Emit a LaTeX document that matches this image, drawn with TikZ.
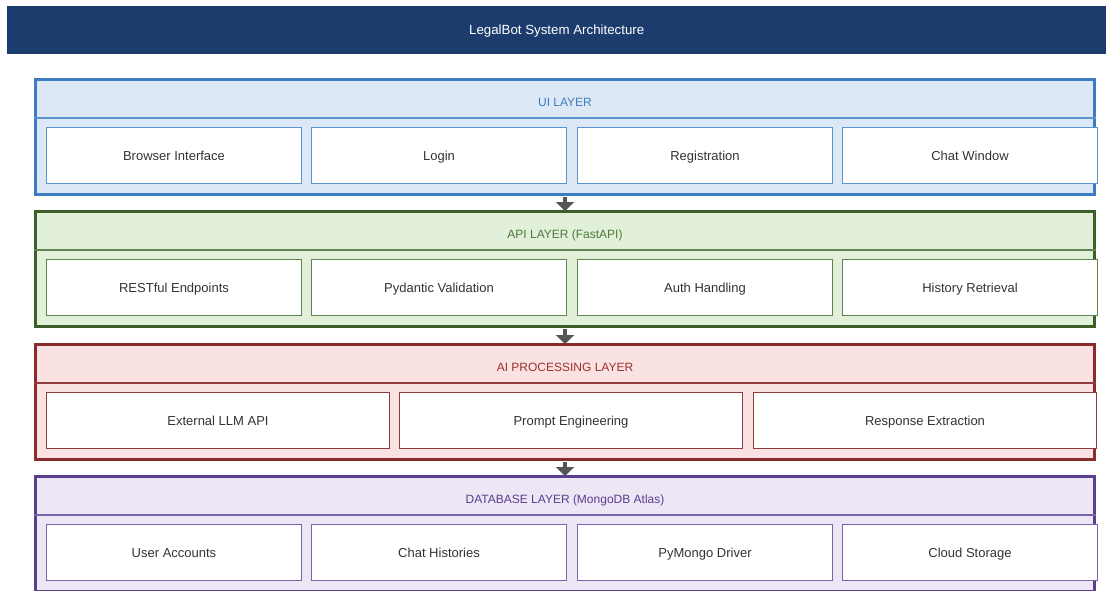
\documentclass[tikz,border=0pt]{standalone}
\usepackage{fontspec}
\setmainfont{Liberation Sans}
\usetikzlibrary{arrows.meta}
\definecolor{titlebg}{HTML}{1D3C6E}
\definecolor{uiB}{HTML}{3D7CC0}\definecolor{uiF}{HTML}{DCE8F5}\definecolor{uiX}{HTML}{5A93CF}\definecolor{uiT}{HTML}{3D7CC0}
\definecolor{apiB}{HTML}{3B5E2A}\definecolor{apiF}{HTML}{E2EFD9}\definecolor{apiX}{HTML}{5E8450}\definecolor{apiT}{HTML}{4E7A3A}
\definecolor{aiB}{HTML}{8B2C2C}\definecolor{aiF}{HTML}{FBE2E2}\definecolor{aiX}{HTML}{8E3B3B}\definecolor{aiT}{HTML}{9B3030}
\definecolor{dbB}{HTML}{5A3E8F}\definecolor{dbF}{HTML}{ECE6F5}\definecolor{dbX}{HTML}{7B62AE}\definecolor{dbT}{HTML}{5A3E8F}
\definecolor{txt}{HTML}{333333}
\definecolor{arr}{HTML}{555555}
\begin{document}
\begin{tikzpicture}[x=1pt,y=-1pt,
  titlebar/.style={fill=titlebg, text=white, inner sep=0pt, font=\fontsize{13.3}{16}\selectfont, anchor=north west, minimum width=1099pt, minimum height=48pt, text height=12pt, text depth=2.5pt},
  layer/.style={line width=3pt, inner sep=0pt, anchor=north west, minimum width=1059pt, minimum height=115pt},
  hdr/.style={font=\fontsize{12}{14}\selectfont, inner sep=0pt, text height=8.6pt, text depth=2.5pt},
  sep/.style={line width=1.2pt},
  box/.style={fill=white, line width=1pt, inner sep=0pt, anchor=north west, minimum height=56pt, text=txt, font=\fontsize{13}{15}\selectfont, text height=12pt, text depth=2.3pt},
  box4/.style={box, minimum width=255pt},
  box3/.style={box, minimum width=343pt},
  flow/.style={arr, line width=4pt, -{Triangle[width=18pt,length=9pt]}, shorten >=-1pt, shorten <=1pt}
]
\useasboundingbox (0,0) rectangle (1106,590);
\fill[white] (0,0) rectangle (1106,590);

\node[titlebar] (title) at (7,6) {LegalBot System Architecture};

% UI layer
\node[layer, draw=uiB, fill=uiF] (L1) at (34,78) {};
\draw[sep, uiX] ([yshift=-40pt]L1.north west) -- ([yshift=-40pt]L1.north east);
\node[hdr, text=uiT] (L1h) at ([yshift=-25.5pt]L1.north) {UI LAYER};
\node[box4, draw=uiX] (u1) at (46,127) {Browser Interface};
\node[box4, draw=uiX] (u2) at (311,127) {Login};
\node[box4, draw=uiX] (u3) at (577,127) {Registration};
\node[box4, draw=uiX] (u4) at (842,127) {Chat Window};

% API layer
\node[layer, draw=apiB, fill=apiF] (L2) at (34,210) {};
\draw[sep, apiX] ([yshift=-40pt]L2.north west) -- ([yshift=-40pt]L2.north east);
\node[hdr, text=apiT] (L2h) at ([yshift=-25.5pt]L2.north) {API LAYER (FastAPI)};
\node[box4, draw=apiX] (a1) at (46,259) {RESTful Endpoints};
\node[box4, draw=apiX] (a2) at (311,259) {Pydantic Validation};
\node[box4, draw=apiX] (a3) at (577,259) {Auth Handling};
\node[box4, draw=apiX] (a4) at (842,259) {History Retrieval};

% AI layer
\node[layer, draw=aiB, fill=aiF] (L3) at (34,343) {};
\draw[sep, aiX] ([yshift=-40pt]L3.north west) -- ([yshift=-40pt]L3.north east);
\node[hdr, text=aiT] (L3h) at ([yshift=-25.5pt]L3.north) {AI PROCESSING LAYER};
\node[box3, draw=aiX] (p1) at (46,392) {External LLM API};
\node[box3, draw=aiX] (p2) at (399,392) {Prompt Engineering};
\node[box3, draw=aiX] (p3) at (753,392) {Response Extraction};

% DB layer
\node[layer, draw=dbB, fill=dbF] (L4) at (34,475) {};
\draw[sep, dbX] ([yshift=-40pt]L4.north west) -- ([yshift=-40pt]L4.north east);
\node[hdr, text=dbT] (L4h) at ([yshift=-25.5pt]L4.north) {DATABASE LAYER (MongoDB Atlas)};
\node[box4, draw=dbX] (d1) at (46,524) {User Accounts};
\node[box4, draw=dbX] (d2) at (311,524) {Chat Histories};
\node[box4, draw=dbX] (d3) at (577,524) {PyMongo Driver};
\node[box4, draw=dbX] (d4) at (842,524) {Cloud Storage};

% arrows
\draw[flow] (L1.south) -- (L2.north);
\draw[flow] (L2.south) -- (L3.north);
\draw[flow] (L3.south) -- (L4.north);
\end{tikzpicture}
\end{document}
